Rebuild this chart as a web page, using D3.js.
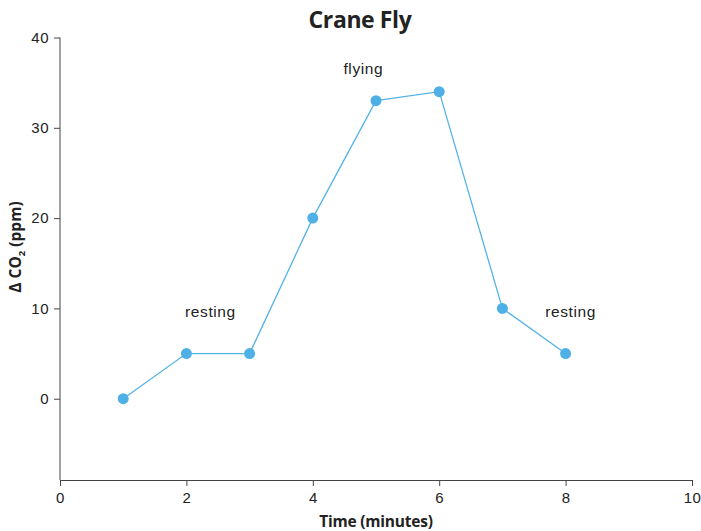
<!DOCTYPE html>
<html>
<head>
<meta charset="utf-8">
<script src="https://cdn.jsdelivr.net/npm/d3@7"></script>
<style>
  body { margin: 0; background: #fff; }
  .tick text { font-family: "Liberation Sans", Arial, sans-serif; font-size: 15px; letter-spacing: 0.5px; fill: #222; }
  .domain, .tick line { stroke: #444; }
</style>
</head>
<body>
<svg id="chart" width="701" height="531"></svg>
<script>
// data
const minutes = [1, 2, 3, 4, 5, 6, 7, 8]
const co2 = [0, 5, 5, 20, 33, 34, 10, 5]
const notes = ['resting', 'flying', 'resting']
const noteX = [2.38, 4.8, 8.08]
const noteY = [9.0, 36.0, 9.0]
const xTicks = [0, 2, 4, 6, 8, 10]
const yTicks = [0, 10, 20, 30, 40]

const margin = { top: 37.5, right: 9, bottom: 51, left: 60 }
const width = 701 - margin.left - margin.right
const height = 531 - margin.top - margin.bottom

const svg = d3.select('#chart')
const chart = svg.append('g')
  .attr('transform', `translate(${margin.left}, ${margin.top})`)

const xScale = d3.scaleLinear().domain([0, 10]).range([0, width])
const yScale = d3.scaleLinear().domain([-9, 40]).range([height, 0])

// y axis: line over the full range, ticks only at labelled values
chart.append('line')
  .attr('x1', 0).attr('x2', 0)
  .attr('y1', 0).attr('y2', height)
  .attr('stroke', '#444')

chart.append('g')
  .call(d3.axisLeft(yScale).tickValues(yTicks).tickSize(6).tickPadding(5))
  .call(g => g.select('.domain').remove())

chart.append('g')
  .attr('transform', `translate(0, ${height})`)
  .call(d3.axisBottom(xScale).tickValues(xTicks).tickSize(6).tickSizeOuter(0).tickPadding(6))

const data = minutes.map((m, i) => ({ m: m, v: co2[i] }))

chart.append('path')
  .datum(data)
  .attr('fill', 'none')
  .attr('stroke', '#55b3e6')
  .attr('stroke-width', 1.3)
  .attr('d', d3.line()
    .x(d => xScale(d.m))
    .y(d => yScale(d.v))
  )

chart.selectAll('circle')
  .data(data)
  .join('circle')
  .attr('cx', d => xScale(d.m))
  .attr('cy', d => yScale(d.v))
  .attr('r', 5.5)
  .attr('fill', '#4fb0e6')

chart.selectAll('.note')
  .data(notes)
  .join('text')
  .attr('class', 'note')
  .attr('x', (d, i) => xScale(noteX[i]))
  .attr('y', (d, i) => yScale(noteY[i]))
  .attr('text-anchor', 'middle')
  .style('font-family', '"Liberation Sans", Arial, sans-serif')
  .style('font-size', '15.5px')
  .style('letter-spacing', '0.6px')
  .style('fill', '#222')
  .text(d => d)

// title
svg.append('text')
  .attr('x', 360)
  .attr('y', 28)
  .attr('text-anchor', 'middle')
  .style('font-family', '"Open Sans", sans-serif')
  .style('font-weight', 'bold')
  .style('font-size', '23px')
  .style('letter-spacing', '-0.4px')
  .style('fill', '#222')
  .text('Crane Fly')

// x label
svg.append('text')
  .attr('x', 376)
  .attr('y', 527)
  .attr('text-anchor', 'middle')
  .style('font-family', '"Open Sans", sans-serif')
  .style('font-weight', 'bold')
  .style('font-size', '15.5px')
  .style('letter-spacing', '-0.2px')
  .style('fill', '#222')
  .text('Time (minutes)')

// y label with subscript
const yLab = svg.append('text')
  .attr('transform', 'translate(21, 247) rotate(-90)')
  .attr('text-anchor', 'middle')
  .style('font-family', '"Open Sans", sans-serif')
  .style('font-weight', 'bold')
  .style('font-size', '15.5px')
  .style('fill', '#222')
yLab.append('tspan').text('\u0394 CO')
yLab.append('tspan').attr('dy', 4).style('font-size', '9.5px').text('2')
yLab.append('tspan').attr('dy', -4).text(' (ppm)')
</script>
</body>
</html>
